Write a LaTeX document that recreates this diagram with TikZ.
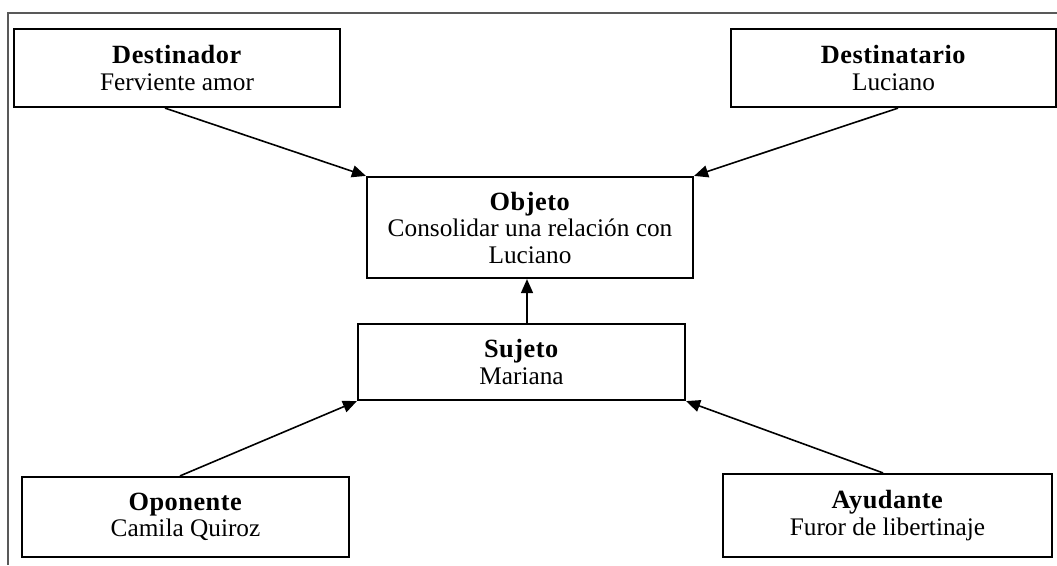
\documentclass[tikz,border=0pt]{standalone}
\usepackage{fontspec}
\setmainfont{Liberation Serif}[BoldFeatures={LetterSpace=2,Scale=1.04}]
\usetikzlibrary{arrows.meta,calc}
\begin{document}
\begin{tikzpicture}[x=1pt,y=1pt,
  box/.style={draw=black,line width=2.2pt,inner sep=0pt,align=center,
    font=\fontsize{25.3}{26.5}\selectfont},
  arr/.style={line width=1.6pt,-{Triangle[length=14pt,width=12pt]}},
  frame/.style={draw=black!65,line width=1.2pt}]
\useasboundingbox (0,0) rectangle (1057,-565);
\coordinate (ftr) at (1057,-13);
\coordinate (ftl) at (8,-13);
\coordinate (fbl) at (8,-565);
\draw[frame] (ftr) -- (ftl) -- (fbl);
\node[box,minimum width=326pt,minimum height=78pt] (dor) at (177,-68) {\textbf{Destinador}\\Ferviente amor};
\node[box,minimum width=325pt,minimum height=78pt] (tar) at (893.5,-68) {\textbf{Destinatario}\\Luciano};
\node[box,minimum width=326pt,minimum height=101pt] (obj) at (530,-227.5) {\textbf{Objeto}\\Consolidar una relación con\\Luciano};
\node[box,minimum width=327pt,minimum height=76pt] (suj) at (521.5,-362) {\textbf{Sujeto}\\Mariana};
\node[box,minimum width=327pt,minimum height=80pt] (opo) at (185.5,-517) {\textbf{Oponente}\\Camila Quiroz};
\node[box,minimum width=329pt,minimum height=83pt] (ayu) at (887.5,-515.5) {\textbf{Ayudante}\\Furor de libertinaje};
\draw[arr] ($(dor.south)+(-12,0)$) -- (obj.north west);
\draw[arr] ($(tar.south)+(4.5,0)$) -- (obj.north east);
\draw[arr] ($(suj.north)+(5.5,0)$) -- ($(obj.south)+(-3,0)$);
\draw[arr] ($(opo.north)+(-5.5,0)$) -- (suj.south west);
\draw[arr] ($(ayu.north)+(-4.5,0)$) -- (suj.south east);
\end{tikzpicture}
\end{document}
